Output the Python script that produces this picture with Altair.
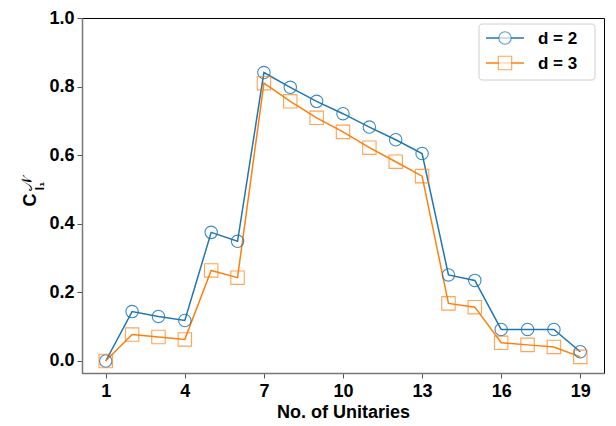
import altair as alt
import pandas as pd

unitaries = list(range(1, 20))
d2 = [0.0, 0.144, 0.130, 0.118, 0.375, 0.349, 0.841, 0.798, 0.757, 0.721,
      0.682, 0.645, 0.605, 0.251, 0.235, 0.092, 0.092, 0.092, 0.027]
d3 = [0.0, 0.077, 0.070, 0.063, 0.264, 0.243, 0.810, 0.757, 0.709, 0.668,
      0.622, 0.581, 0.539, 0.168, 0.157, 0.053, 0.047, 0.041, 0.012]
x_ticks = [1, 4, 7, 10, 13, 16, 19]
y_ticks = [0.0, 0.2, 0.4, 0.6, 0.8, 1.0]
series_labels = ["d = 2", "d = 3"]
colors = ["#1f77b4", "#ff7f0e"]

df = pd.DataFrame({
    "n": unitaries * 2,
    "C": d2 + d3,
    "series": [series_labels[0]] * len(d2) + [series_labels[1]] * len(d3),
})

FONT = "Liberation Sans"

x_enc = alt.X("n:Q",
              scale=alt.Scale(domain=[0.1, 19.9], nice=False, zero=False),
              axis=alt.Axis(values=x_ticks, format="d", title="No. of Unitaries",
                            grid=False, labelFontSize=18, labelFontWeight="bold",
                            titleFontSize=18, titleFontWeight="bold",
                            tickSize=5, labelPadding=4, titlePadding=3,
                            labelFont=FONT, titleFont=FONT))
y_enc = alt.Y("C:Q",
              scale=alt.Scale(domain=[-0.035, 1.0], nice=False, zero=False),
              axis=alt.Axis(values=y_ticks, format=".1f", title=None,
                            grid=False, labelFontSize=18, labelFontWeight="bold",
                            tickSize=5, labelPadding=3, labelFont=FONT))

color_scale = alt.Scale(domain=series_labels, range=colors)

lines = alt.Chart(df).mark_line(strokeWidth=1.5).encode(
    x=x_enc, y=y_enc,
    color=alt.Color("series:N", scale=color_scale, legend=None),
)

circles = alt.Chart(df[df.series == series_labels[0]]).mark_point(
    shape="circle", size=154, filled=False, strokeWidth=1.1, opacity=0.85
).encode(x="n:Q", y="C:Q", color=alt.Color("series:N", scale=color_scale, legend=None))

squares = alt.Chart(df[df.series == series_labels[1]]).mark_point(
    shape="square", size=180, filled=False, strokeWidth=1.1, opacity=0.7
).encode(x="n:Q", y="C:Q", color=alt.Color("series:N", scale=color_scale, legend=None))

# Y-axis title  C^N_{l1}
one = pd.DataFrame({"a": [0]})
ytitle_c = alt.Chart(one).mark_text(text="C", fontSize=18, fontWeight="bold", font=FONT,
                                    angle=270, align="center", baseline="middle").encode(
    x=alt.value(-51), y=alt.value(182))
ytitle_n = alt.Chart(one).mark_text(text="𝒩", fontSize=15, font="DejaVu Sans",
                                    angle=270, align="center", baseline="middle").encode(
    x=alt.value(-55), y=alt.value(166))
ytitle_l = alt.Chart(one).mark_text(text="l₁", fontSize=12, fontWeight="bold", font=FONT,
                                    angle=270, align="center", baseline="middle").encode(
    x=alt.value(-42), y=alt.value(168))

# Legend
leg_box = alt.Chart(one).mark_rect(fill="white", stroke="#cccccc", strokeWidth=1,
                                   cornerRadius=3, opacity=0.9).encode(
    x=alt.value(397), x2=alt.value(513), y=alt.value(6), y2=alt.value(62))
leg_line1 = alt.Chart(one).mark_rule(color=colors[0], strokeWidth=1.5).encode(
    x=alt.value(404), x2=alt.value(442), y=alt.value(20))
leg_line2 = alt.Chart(one).mark_rule(color=colors[1], strokeWidth=1.5).encode(
    x=alt.value(404), x2=alt.value(442), y=alt.value(45))
leg_pt1 = alt.Chart(one).mark_point(shape="circle", size=154, filled=True, fill="white",
                                    stroke=colors[0], strokeWidth=1.1).encode(
    x=alt.value(423), y=alt.value(20))
leg_pt2 = alt.Chart(one).mark_point(shape="square", size=180, filled=True, fill="white",
                                    stroke=colors[1], strokeWidth=1.1).encode(
    x=alt.value(423), y=alt.value(45))
leg_t1 = alt.Chart(one).mark_text(text=series_labels[0], fontSize=17, fontWeight="bold",
                                  font=FONT, align="left", baseline="middle").encode(
    x=alt.value(456), y=alt.value(21))
leg_t2 = alt.Chart(one).mark_text(text=series_labels[1], fontSize=17, fontWeight="bold",
                                  font=FONT, align="left", baseline="middle").encode(
    x=alt.value(456), y=alt.value(46))

chart = alt.layer(
    lines, circles, squares, ytitle_c, ytitle_n, ytitle_l,
    leg_box, leg_line1, leg_line2, leg_pt1, leg_pt2, leg_t1, leg_t2,
).properties(
    width=522, height=355,
    autosize=alt.AutoSizeParams(type="none"),
    padding={"left": 74, "top": 10, "right": 2, "bottom": 52},
).configure_view(
    stroke="black", strokeWidth=1
).configure_axis(
    domainColor="#777777", domainWidth=1.5, tickColor="#555555", tickWidth=1,
    labelColor="black", titleColor="black"
)

chart.save("out.html", embed_options={"renderer": "svg", "actions": False})
